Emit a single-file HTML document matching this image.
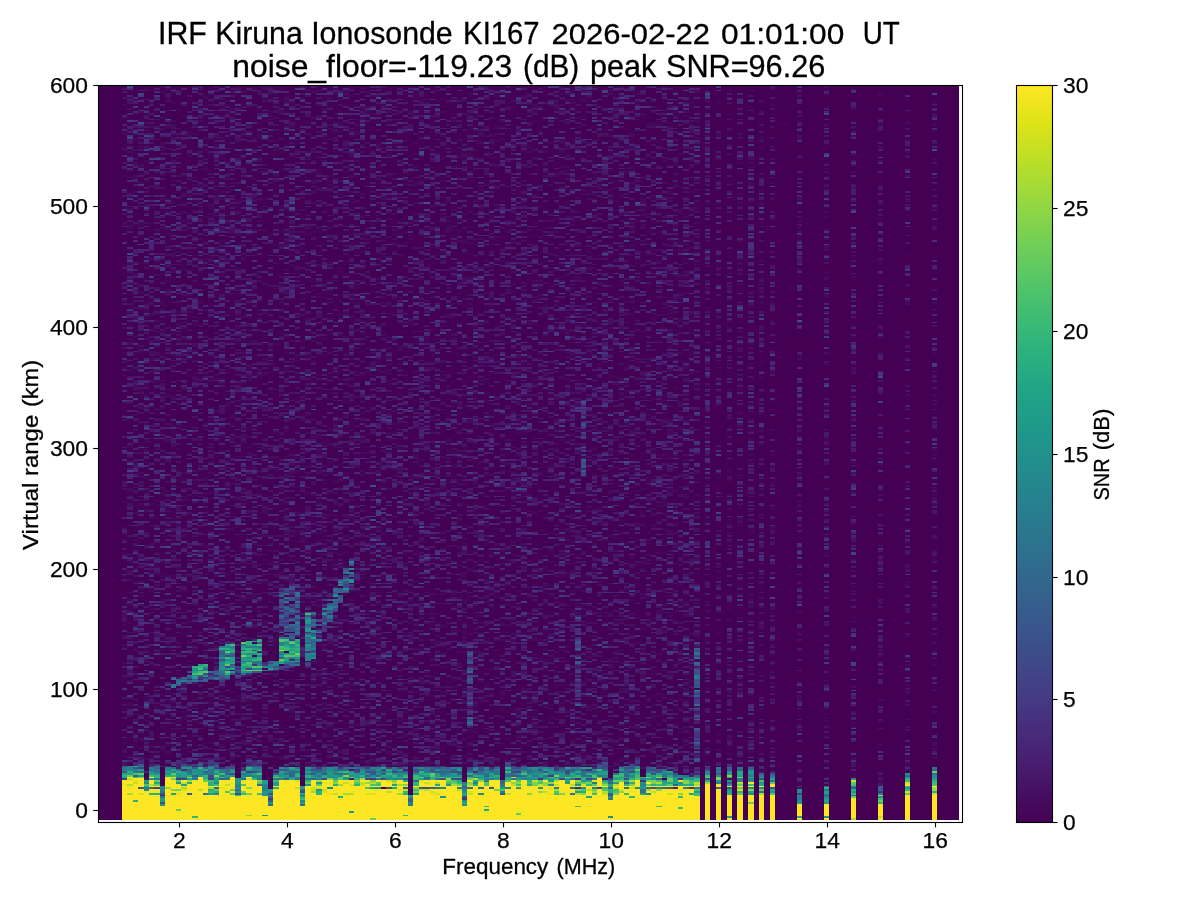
<!DOCTYPE html>
<html><head><meta charset="utf-8">
<style>
html,body{margin:0;padding:0;background:#fff;width:1200px;height:900px;overflow:hidden}
#plot{position:absolute;left:98px;top:85px;width:861px;height:735px;background:#450d5e}
#fb1{position:absolute;left:0;top:0;width:24px;height:735px;background:#440154}
#fb2{position:absolute;left:602px;top:0;width:259px;height:735px;background:#44045a}
#fb3{position:absolute;left:24px;top:690px;width:578px;height:45px;background:#f0e030}
#fb4{position:absolute;left:24px;top:675px;width:578px;height:15px;background:#3aa080}
#cv{position:absolute;left:98px;top:85px}
svg{position:absolute;left:0;top:0}
text{font-family:"Liberation Sans",sans-serif;fill:#000}
</style></head><body>
<div id="plot"><div id="fb1"></div><div id="fb2"></div><div id="fb4"></div><div id="fb3"></div></div>
<canvas id="cv" width="861" height="735"></canvas>
<svg width="1200" height="900" viewBox="0 0 1200 900">
<defs>
<linearGradient id="vir" x1="0" y1="1" x2="0" y2="0">
<stop offset="0" stop-color="#440154"/><stop offset="0.05" stop-color="#471365"/><stop offset="0.1" stop-color="#482475"/><stop offset="0.15" stop-color="#463480"/><stop offset="0.2" stop-color="#414487"/><stop offset="0.25" stop-color="#3b528b"/><stop offset="0.3" stop-color="#355f8d"/><stop offset="0.35" stop-color="#2f6c8e"/><stop offset="0.4" stop-color="#2a788e"/><stop offset="0.45" stop-color="#25848e"/><stop offset="0.5" stop-color="#21918c"/><stop offset="0.55" stop-color="#1e9c89"/><stop offset="0.6" stop-color="#22a884"/><stop offset="0.65" stop-color="#2fb47c"/><stop offset="0.7" stop-color="#44bf70"/><stop offset="0.75" stop-color="#5ec962"/><stop offset="0.8" stop-color="#7ad151"/><stop offset="0.85" stop-color="#9bd93c"/><stop offset="0.9" stop-color="#bddf26"/><stop offset="0.95" stop-color="#dfe318"/><stop offset="1" stop-color="#fde725"/>
</linearGradient>
</defs>
<g fill="#000">
<rect x="97.95" y="84.95" width="865.1" height="1.1"/><rect x="97.95" y="821.95" width="865.1" height="1.1"/><rect x="97.95" y="85" width="1.1" height="738"/><rect x="961.95" y="85" width="1.1" height="738"/>
<rect x="93.2" y="84.95" width="5.3" height="1.1"/><rect x="93.2" y="205.95" width="5.3" height="1.1"/><rect x="93.2" y="326.95" width="5.3" height="1.1"/><rect x="93.2" y="447.95" width="5.3" height="1.1"/><rect x="93.2" y="568.95" width="5.3" height="1.1"/><rect x="93.2" y="688.95" width="5.3" height="1.1"/><rect x="93.2" y="809.95" width="5.3" height="1.1"/><rect x="178.95" y="822.5" width="1.1" height="4.9"/><rect x="286.95" y="822.5" width="1.1" height="4.9"/><rect x="394.95" y="822.5" width="1.1" height="4.9"/><rect x="502.95" y="822.5" width="1.1" height="4.9"/><rect x="610.95" y="822.5" width="1.1" height="4.9"/><rect x="718.95" y="822.5" width="1.1" height="4.9"/><rect x="826.95" y="822.5" width="1.1" height="4.9"/><rect x="934.95" y="822.5" width="1.1" height="4.9"/><rect x="1052.5" y="84.95" width="5.1" height="1.1"/><rect x="1052.5" y="207.95" width="5.1" height="1.1"/><rect x="1052.5" y="330.95" width="5.1" height="1.1"/><rect x="1052.5" y="453.95" width="5.1" height="1.1"/><rect x="1052.5" y="576.95" width="5.1" height="1.1"/><rect x="1052.5" y="698.95" width="5.1" height="1.1"/><rect x="1052.5" y="821.95" width="5.1" height="1.1"/>
</g>
<rect x="1016.5" y="85.5" width="36" height="737" fill="url(#vir)"/>
<g fill="#000"><rect x="1015.95" y="84.95" width="37.1" height="1.1"/><rect x="1015.95" y="821.95" width="37.1" height="1.1"/><rect x="1015.95" y="85" width="1.1" height="738"/><rect x="1051.95" y="85" width="1.1" height="738"/></g>
<g font-size="22.8" text-anchor="end" stroke="#000" stroke-width="0.25">
<text x="88" y="92.7" textLength="38.1" lengthAdjust="spacingAndGlyphs">600</text>
<text x="88" y="213.7" textLength="38.1" lengthAdjust="spacingAndGlyphs">500</text>
<text x="88" y="334.7" textLength="38.1" lengthAdjust="spacingAndGlyphs">400</text>
<text x="88" y="455.7" textLength="38.1" lengthAdjust="spacingAndGlyphs">300</text>
<text x="88" y="576.7" textLength="38.1" lengthAdjust="spacingAndGlyphs">200</text>
<text x="88" y="696.7" textLength="38.1" lengthAdjust="spacingAndGlyphs">100</text>
<text x="88" y="817.7" textLength="12.7" lengthAdjust="spacingAndGlyphs">0</text>
</g>
<g font-size="22.8" text-anchor="middle" stroke="#000" stroke-width="0.25">
<text x="179.3" y="848" textLength="12.7" lengthAdjust="spacingAndGlyphs">2</text>
<text x="287.3" y="848" textLength="12.7" lengthAdjust="spacingAndGlyphs">4</text>
<text x="395.3" y="848" textLength="12.7" lengthAdjust="spacingAndGlyphs">6</text>
<text x="503.3" y="848" textLength="12.7" lengthAdjust="spacingAndGlyphs">8</text>
<text x="611.3" y="848" textLength="25.4" lengthAdjust="spacingAndGlyphs">10</text>
<text x="719.3" y="848" textLength="25.4" lengthAdjust="spacingAndGlyphs">12</text>
<text x="827.3" y="848" textLength="25.4" lengthAdjust="spacingAndGlyphs">14</text>
<text x="935.3" y="848" textLength="25.4" lengthAdjust="spacingAndGlyphs">16</text>
</g>
<g font-size="22.8" stroke="#000" stroke-width="0.25">
<text x="1063" y="92.7" textLength="25.4" lengthAdjust="spacingAndGlyphs">30</text>
<text x="1063" y="215.7" textLength="25.4" lengthAdjust="spacingAndGlyphs">25</text>
<text x="1063" y="338.7" textLength="25.4" lengthAdjust="spacingAndGlyphs">20</text>
<text x="1063" y="461.7" textLength="25.4" lengthAdjust="spacingAndGlyphs">15</text>
<text x="1063" y="584.7" textLength="25.4" lengthAdjust="spacingAndGlyphs">10</text>
<text x="1063" y="706.7" textLength="12.7" lengthAdjust="spacingAndGlyphs">5</text>
<text x="1063" y="829.7" textLength="12.7" lengthAdjust="spacingAndGlyphs">0</text>
</g>
<g><text x="158.01" y="44" font-size="30.5" textLength="294.7" lengthAdjust="spacingAndGlyphs" stroke="#000" stroke-width="0.3">IRF Kiruna Ionosonde</text><text x="463.08" y="44" font-size="30.5" textLength="76.61" lengthAdjust="spacingAndGlyphs" stroke="#000" stroke-width="0.3">KI167</text><text x="551.48" y="44" font-size="29.6" textLength="158.55" lengthAdjust="spacingAndGlyphs" stroke="#000" stroke-width="0.3">2026-02-22</text><text x="720.96" y="44" font-size="29.6" textLength="123.3" lengthAdjust="spacingAndGlyphs" stroke="#000" stroke-width="0.3">01:01:00</text><text x="862.68" y="44" font-size="30.5" textLength="37.02" lengthAdjust="spacingAndGlyphs" stroke="#000" stroke-width="0.3">UT</text></g>
<g><text x="232.26" y="76.7" font-size="30.5" textLength="280" lengthAdjust="spacingAndGlyphs" stroke="#000" stroke-width="0.3">noise_floor=-119.23</text><text x="523.03" y="76.7" font-size="30.5" textLength="56.08" lengthAdjust="spacingAndGlyphs" stroke="#000" stroke-width="0.3">(dB)</text><text x="590" y="76.7" font-size="30.5" textLength="66.14" lengthAdjust="spacingAndGlyphs" stroke="#000" stroke-width="0.3">peak</text><text x="666" y="76.7" font-size="30.5" textLength="159.25" lengthAdjust="spacingAndGlyphs" stroke="#000" stroke-width="0.3">SNR=96.26</text></g>
<g><text x="442.3" y="873.7" font-size="22.5" textLength="106.01" lengthAdjust="spacingAndGlyphs" stroke="#000" stroke-width="0.3">Frequency</text><text x="556.54" y="873.7" font-size="22.5" textLength="58.68" lengthAdjust="spacingAndGlyphs" stroke="#000" stroke-width="0.3">(MHz)</text></g>
<g transform="translate(38.3,549.9) rotate(-90)"><text x="0" y="0" font-size="22.5" textLength="135.08" lengthAdjust="spacingAndGlyphs" stroke="#000" stroke-width="0.3">Virtual range</text><text x="142.85" y="0" font-size="22.5" textLength="47.18" lengthAdjust="spacingAndGlyphs" stroke="#000" stroke-width="0.3">(km)</text></g>
<g transform="translate(1108.8,499.7) rotate(-90)"><text x="-0.89" y="0" font-size="22.5" textLength="42.14" lengthAdjust="spacingAndGlyphs" stroke="#000" stroke-width="0.3">SNR</text><text x="49.42" y="0" font-size="22.5" textLength="41.79" lengthAdjust="spacingAndGlyphs" stroke="#000" stroke-width="0.3">(dB)</text></g>
</svg>
<script>
(function(){
var C=[[1,200,440],[1,250,400],[1,210,420],[1,170,400],[1,200,560,200,440,560],[1,170,400],[1,240,500],[1,200,720,200,500,720],[1,200,400],[1,160,400],[1,260,500],[1,270,500],[1,230,480],[1,210,440],[1,160,400],[1,230,460],[1,200,600],[1,220,600],[1,300,440],[1,300,440],[1,240,410],[1,200,620,200,420,620],[1,340,440],[1,260,410],[1,260,440],[1,260,500],[1,300,620,300,440,620],[1,230,720,230,540,720],[1,370,540],[1,300,440],[1,300,440],[1,300,440],[1,300,440],[1,200,720,200,500,720],[1,300,500],[1,300,440],[1,310,600],[1,300,440],[1,300,440],[1,300,500],[1,300,440],[1,300,440],[1,300,440],[1,310,500],[1,310,500],[1,300,440],[1,310,500],[1,300,500],[1,300,440],[1,300,440],[1,300,500],[1,300,440],[1,300,600],[1,0,720,0,600,720],[1,300,600],[1,300,440],[1,300,440],[1,300,440],[1,300,500],[1,300,440],[1,300,500],[1,300,500],[1,300,500],[1,0,720,0,460,720],[1,300,500],[1,300,500],[1,300,440],[1,300,500],[1,300,440],[1,300,440],[1,0,600,0,440,600],[1,220,440],[1,220,440],[1,300,500],[1,300,440],[1,300,500],[1,300,500],[1,300,500],[1,300,500],[1,300,520],[1,300,600],[1,300,440],[1,300,500],[1,300,440],[1,300,600],[1,300,600],[1,300,500],[1,300,600],[1,200,430],[1,220,600],[1,0,650,0,430,650],[1,330,600],[1,300,430],[1,220,500],[1,220,500],[1,220,440],[1,280,600,280,400,600],[1,300,440],[1,300,500],[1,320,500],[1,330,520],[1,350,520],[1,370,500],[1,380,500],[1,380,500],[1,380,500],[1,380,620],[0],[2,340,480],[0],[2,300,480],[0],[2,300,580],[0],[2,300,600],[0],[2,300,620],[0],[2,360,600],[0],[2,360,600],[0],[0],[0],[0],[3,540,700],[0],[0],[0],[0],[3,500,700],[0],[0],[0],[0],[3,430,630],[0],[0],[0],[0],[3,500,700],[0],[0],[0],[0],[3,360,600],[0],[0],[0],[0],[3,305,580],[0],[0],[0],[0]];
var cv=document.getElementById('cv');if(!cv.getContext)return;var ctx=cv.getContext('2d');
var W=861,H=735,img=ctx.createImageData(W,H),d=img.data;
var S=[[68,1,84],[71,19,101],[72,36,117],[70,52,128],[65,68,135],[59,82,139],[53,95,141],[47,108,142],[42,120,142],[37,132,142],[33,145,140],[30,156,137],[34,168,132],[47,180,124],[68,191,112],[94,201,98],[122,209,81],[155,217,60],[189,223,38],[223,227,24],[253,231,37]];
var L=new Uint8Array(256*3),k,c;
for(k=0;k<256;k++){var t=k/255*20,a=Math.min(19,Math.floor(t)),u=t-a;for(c=0;c<3;c++)L[k*3+c]=Math.round(S[a][c]+(S[a+1][c]-S[a][c])*u);}
var s=88172645;function R(){s^=s<<13;s^=s>>>17;s^=s<<5;return (s>>>0)/4294967296;}
function E(){return -Math.log(1-R()*0.999999);}
function NZ(){var z=0;for(var q=0;q<2;q++)z+=E();return z/2;}
function G(){return Math.sqrt(-2*Math.log(1-R()*0.999999))*Math.cos(6.2831853*R());}
var NC=155,NR=406,DY=1.8125,M0=1.05;
var V=new Float32Array(NC*NR);
function zy(z){return 740+z/10.98;}
function lg(p){return 10*Math.log(p)/Math.LN10;}
var BL=[[171,683,299,661,5,9],[191,673,208,670,7,18],[218,661,235,658,15,16],[241,658,262,655,16,17],[277,652,299,650,12,18],[277,614,299,612,26,7],[305,637,317,635,24,12],[319,630,354,566,12,9],[696,675,698,675,33,8],[696,735,698,735,27,3],[469,685,471,685,42,4],[577,660,579,660,45,3.5],[582,440,584,440,40,2],[406,340,408,340,25,3]];
for(var i=0;i<NC;i++){
 var cc=C[i],ty=cc[0];
 var nf=ty==1?1:(ty==2?1.1:(ty==3?1.0:0));
 var cm=(1-0.15)+2*0.15*R();
 var xc=121.9+5.4*(i+0.5);
 for(var j=0;j<NR;j++){
  var y=820-DY*(j+0.5),v=-99;
  if(ty>0){
   var m=M0*nf*cm, ps=0;
   for(var b=0;b<BL.length;b++){var q=BL[b];
     if(xc>=q[0]&&xc<=q[2]){var f=(xc-q[0])/(q[2]-q[0]+1e-9);var yc=q[1]+(q[3]-q[1])*f;if(Math.abs(y-yc)<=q[4])ps+=Math.pow(10,q[5]/10);}}
   if(cc.length>3){
     var dk=zy(cc[3]),tl=zy(cc[4]),yl=zy(cc[5]);
     if(y<dk){v=lg(m*NZ()+ps*E());}
     else if(y<tl){v=lg(m*0.6*NZ());}
     else if(y<yl){v=13+4*G();}
     else{v=(R()<0.03)?(12+12*R()):40;}
   }else{
     var Tt=zy(Math.max(cc[1],290)),Bs=cc[1]<290?6:2,Yy=zy(cc[2]),Ya=(Tt>=779.7)?Yy:Math.min(779.7,Yy),Ys=Math.max(795.5,Yy);
     if(y<Tt){var ds=Tt-y;ps+=Math.pow(10,Bs*Math.exp(-ds/6)/10)-1;v=lg(m*NZ()+ps*E());}
     else{
      if(y<Ya){var fr=(y-Tt)/Math.max(1,Ya-Tt);v=9+10*fr+4*G();}
      else if(y<Yy){v=21+5*G();}
      else if(y<Ys){v=34+5*G();}
      else{v=(R()<0.01)?(16+10*R()):40;}
      if(ty==3&&i<145&&j<=1&&R()<0.7)v=22+5*G();
      if(y<Ys&&ty<3){
       if(j==22&&R()<0.5)v-=10;
       if(j==18)v=Math.max(v,30);
       if(j==17&&R()<(i<48?0.2:0.6))v=11+4*G();
       if(j==14&&R()<0.15)v=18+4*G();
      }
     }
   }
  }
  V[i*NR+j]=v;
 }
}
for(var py=0;py<H;py++){
 var yy=85+py+0.5,jj=Math.floor((820-yy)/DY);
 for(var px=0;px<W;px++){
  var o=(py*W+px)*4,xx=98+px+0.5,ii=Math.floor((xx-121.9)/5.4),kk=0;
  if(ii>=0&&ii<NC&&jj>=0&&jj<NR){var vv=V[ii*NR+jj];kk=vv<=0?0:(vv>=30?255:Math.round(vv/30*255));}
  d[o]=L[kk*3];d[o+1]=L[kk*3+1];d[o+2]=L[kk*3+2];d[o+3]=255;
 }
}
ctx.putImageData(img,0,0);
})();

</script>
</body></html>
